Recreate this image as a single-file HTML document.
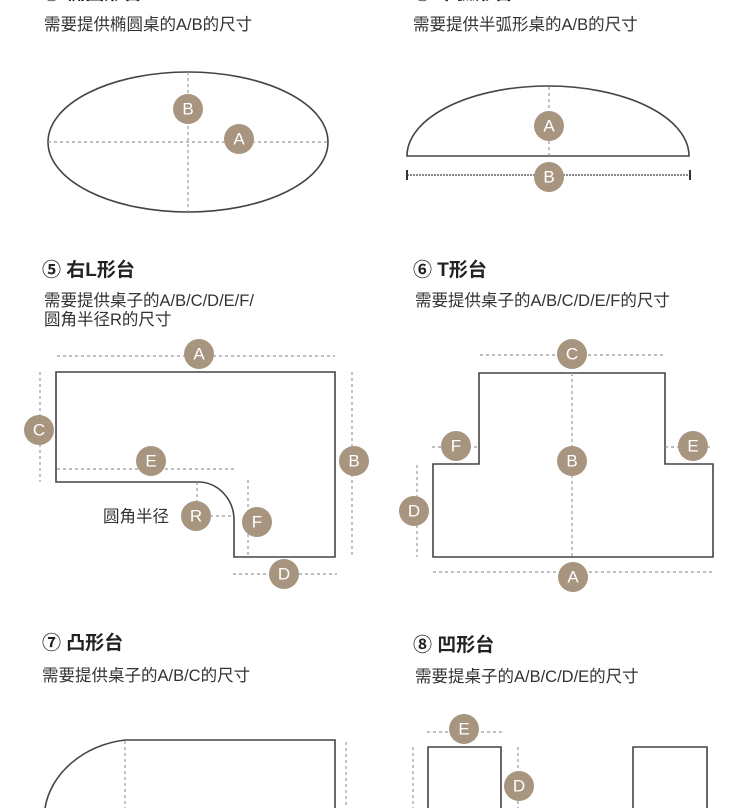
<!DOCTYPE html>
<html><head><meta charset="utf-8"><style>
html,body{margin:0;padding:0;background:#fff;}
svg{display:block;}
text{font-family:"Liberation Sans","Noto Sans CJK SC",sans-serif;}
.t{font-size:19px;font-weight:bold;fill:#222;}
.d{font-size:16.5px;fill:#333;}
.s{fill:none;stroke:#444;stroke-width:1.6;}
.dl{fill:none;stroke:#999;stroke-width:1.2;stroke-dasharray:3 3;}
.c{fill:#a89580;}
.l{font-size:17px;fill:#fff;text-anchor:middle;dominant-baseline:central;}
</style></head><body>
<svg width="750" height="808" viewBox="0 0 750 808" xmlns="http://www.w3.org/2000/svg">
<text class="t" x="42" y="-1">④ 椭圆形台</text>
<text class="t" x="413" y="-1">④ 半弧形台</text>
<text class="d" x="44" y="30">需要提供椭圆桌的A/B的尺寸</text>
<text class="d" x="413" y="30">需要提供半弧形桌的A/B的尺寸</text>

<ellipse class="s" cx="188" cy="142" rx="140" ry="70"/>
<line class="dl" x1="48" y1="142" x2="328" y2="142"/>
<line class="dl" x1="188" y1="72" x2="188" y2="212"/>
<circle class="c" cx="188" cy="109" r="15"/><text class="l" x="188" y="109">B</text>
<circle class="c" cx="239" cy="139" r="15"/><text class="l" x="239" y="139">A</text>

<path class="s" d="M407,156 A141,70 0 0 1 689,156 Z"/>
<line class="dl" x1="549" y1="87" x2="549" y2="156"/>
<line x1="407" y1="175" x2="690" y2="175" stroke="#444" stroke-width="1.3" stroke-dasharray="2 1"/>
<line x1="407" y1="170" x2="407" y2="180" stroke="#333" stroke-width="2"/>
<line x1="690" y1="170" x2="690" y2="180" stroke="#333" stroke-width="2"/>
<circle class="c" cx="549" cy="126" r="15"/><text class="l" x="549" y="126">A</text>
<circle class="c" cx="549" cy="177" r="15"/><text class="l" x="549" y="177">B</text>

<text class="t" x="42" y="276">⑤ 右L形台</text>
<text class="d" x="44" y="306">需要提供桌子的A/B/C/D/E/F/</text>
<text class="d" x="44" y="325">圆角半径R的尺寸</text>
<path class="s" d="M56,372 H335 V557 H234 V520 A36,38 0 0 0 198,482 H56 Z"/>
<line class="dl" x1="57" y1="356" x2="335" y2="356"/>
<line class="dl" x1="40" y1="372" x2="40" y2="482"/>
<line class="dl" x1="57" y1="469" x2="237" y2="469"/>
<line class="dl" x1="352" y1="372" x2="352" y2="557"/>
<line class="dl" x1="248" y1="480" x2="248" y2="555"/>
<line class="dl" x1="197" y1="482" x2="197" y2="502"/>
<line class="dl" x1="210" y1="516" x2="233" y2="516"/>
<line class="dl" x1="233" y1="574" x2="337" y2="574"/>
<circle class="c" cx="199" cy="354" r="15"/><text class="l" x="199" y="354">A</text>
<circle class="c" cx="39" cy="430" r="15"/><text class="l" x="39" y="430">C</text>
<circle class="c" cx="151" cy="461" r="15"/><text class="l" x="151" y="461">E</text>
<circle class="c" cx="354" cy="461" r="15"/><text class="l" x="354" y="461">B</text>
<circle class="c" cx="196" cy="516" r="15"/><text class="l" x="196" y="516">R</text>
<circle class="c" cx="257" cy="522" r="15"/><text class="l" x="257" y="522">F</text>
<circle class="c" cx="284" cy="574" r="15"/><text class="l" x="284" y="574">D</text>
<text class="d" x="103" y="522">圆角半径</text>

<text class="t" x="413" y="276">⑥ T形台</text>
<text class="d" x="415" y="306">需要提供桌子的A/B/C/D/E/F的尺寸</text>
<path class="s" d="M433,557 V464 H479 V373 H665 V464 H713 V557 Z"/>
<line class="dl" x1="480" y1="355" x2="665" y2="355"/>
<line class="dl" x1="572" y1="373" x2="572" y2="557"/>
<line class="dl" x1="432" y1="447" x2="479" y2="447"/>
<line class="dl" x1="665" y1="447" x2="713" y2="447"/>
<line class="dl" x1="417" y1="465" x2="417" y2="557"/>
<line class="dl" x1="433" y1="572" x2="713" y2="572"/>
<circle class="c" cx="572" cy="354" r="15"/><text class="l" x="572" y="354">C</text>
<circle class="c" cx="572" cy="461" r="15"/><text class="l" x="572" y="461">B</text>
<circle class="c" cx="456" cy="446" r="15"/><text class="l" x="456" y="446">F</text>
<circle class="c" cx="693" cy="446" r="15"/><text class="l" x="693" y="446">E</text>
<circle class="c" cx="414" cy="511" r="15"/><text class="l" x="414" y="511">D</text>
<circle class="c" cx="573" cy="577" r="15"/><text class="l" x="573" y="577">A</text>

<text class="t" x="42" y="649">⑦ 凸形台</text>
<text class="d" x="42" y="681">需要提供桌子的A/B/C的尺寸</text>
<path class="s" d="M45,808 A95,80 0 0 1 125,740 H335 V808"/>
<line class="dl" x1="125" y1="741" x2="125" y2="808"/>
<line class="dl" x1="346" y1="742" x2="346" y2="808"/>

<text class="t" x="413" y="651">⑧ 凹形台</text>
<text class="d" x="415" y="682">需要提桌子的A/B/C/D/E的尺寸</text>
<path class="s" d="M428,808 V747 H501 V808"/>
<path class="s" d="M633,808 V747 H707 V808"/>
<line class="dl" x1="427" y1="732" x2="502" y2="732"/>
<line class="dl" x1="518" y1="747" x2="518" y2="808"/>
<line class="dl" x1="413" y1="747" x2="413" y2="808"/>
<circle class="c" cx="464" cy="729" r="15"/><text class="l" x="464" y="729">E</text>
<circle class="c" cx="519" cy="786" r="15"/><text class="l" x="519" y="786">D</text>
</svg>
</body></html>
